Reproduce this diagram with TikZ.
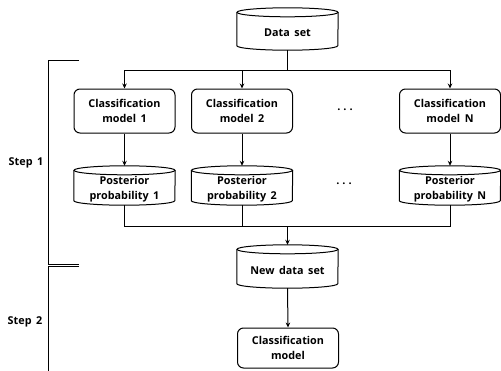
\documentclass[tikz,border=0pt]{standalone}
\usepackage{fontspec}
\setmainfont{Open Sans}
\usetikzlibrary{arrows.meta,calc}
\newcommand\wsp{\spaceskip=4.5pt plus 0pt minus 0pt\relax}
\tikzset{
  ln/.style={line width=1pt, black},
  arr/.style={ln, -{Stealth[length=5pt,width=4.5pt]}},
  boxnode/.style={draw, ln, rounded corners=6pt, minimum width=101pt, minimum height=44pt, align=center, font=\bfseries\fontsize{10.8}{15}\selectfont\wsp, inner sep=0pt},
  cylnode/.style={minimum width=101pt, inner sep=0pt},
  txtnode/.style={align=center, font=\bfseries\fontsize{10.8}{15.5}\selectfont\wsp, inner sep=0pt},
  dotsnode/.style={font=\bfseries\fontsize{11}{12}\selectfont, inner sep=0pt},
}
% #1 name, #2 center, #3 height
\newcommand\mycyl[3]{%
  \node[cylnode, minimum height=#3] (#1) at (#2) {};
  \draw[ln] ([yshift=-4.5pt]#1.north) ellipse [x radius=50.5pt, y radius=4.5pt];
  \draw[ln] ([yshift=-4.5pt]#1.north west) -- ([yshift=4.5pt]#1.south west)
     arc[start angle=180, end angle=360, x radius=50.5pt, y radius=4.5pt]
     -- ([yshift=-4.5pt]#1.north east);
}
\newcommand\mydots{.\hspace{3pt}.\hspace{3pt}.}
\begin{document}
\begin{tikzpicture}[x=1pt, y=-1pt]
\useasboundingbox (0,0) rectangle (501,370);
% data set
\mycyl{ds}{287.5,29}{42pt}
\node[txtnode] (dst) at (287.5,33) {Data set};
% models
\node[boxnode] (m1) at (124.5,111) {Classification\\model 1};
\node[boxnode] (m2) at (242,111) {Classification\\model 2};
\node[boxnode] (mN) at (450,111) {Classification\\model N};
\node[dotsnode] (d1) at (345,110) {\mydots};
% posteriors
\mycyl{p1}{124.5,185.5}{39pt}
\mycyl{p2}{242,185.5}{39pt}
\mycyl{pN}{450,185.5}{39pt}
\node[txtnode] (p1t) at (124.5,189) {Posterior\\probability 1};
\node[txtnode] (p2t) at (242,189) {Posterior\\probability 2};
\node[txtnode] (pNt) at (450,189) {Posterior\\probability N};
\node[dotsnode] (d2) at (344,183.5) {\mydots};
% new data set
\mycyl{nds}{287.5,266.5}{43pt}
\node[txtnode] (ndst) at (287.5,270.5) {New data set};
% final model
\node[boxnode, minimum height=40pt] (fm) at (288,348) {Classification\\model};
% connectors
\coordinate (j1) at (287.5,70);
\coordinate (j2) at (287.5,226);
\draw[ln] (ds.south) -- (j1);
\draw[arr] (j1) -| (m1.north);
\draw[arr] (j1) -| (m2.north);
\draw[arr] (j1) -| (mN.north);
\draw[arr] (m1.south) -- (p1.north);
\draw[arr] (m2.south) -- (p2.north);
\draw[arr] (mN.south) -- (pN.north);
\draw[ln] (p1.south) |- (j2);
\draw[ln] (p2.south) |- (j2);
\draw[ln] (pN.south) |- (j2);
\draw[arr] (j2) -- (nds.north);
\draw[arr] (nds.south) -- (fm.north);
% step brackets
\draw[ln] (79,60) -- (48,60) -- (48,264) -- (79,264);
\draw[ln] (79,266.5) -- (48,266.5) -- (48,372);
\node[txtnode] (s1) at (26,163) {Step 1};
\node[txtnode] (s2) at (25,322) {Step 2};
\end{tikzpicture}
\end{document}
